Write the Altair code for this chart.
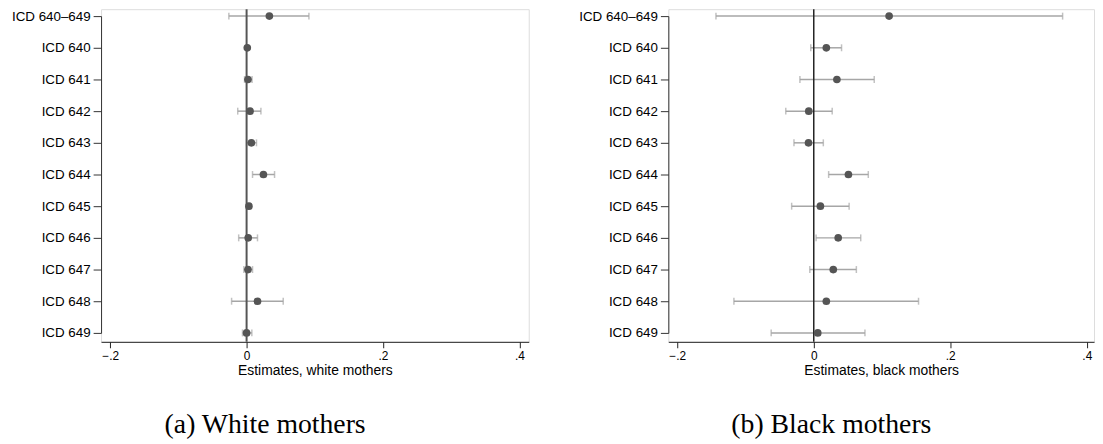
import altair as alt
import pandas as pd

labels = ["ICD 640–649", "ICD 640", "ICD 641", "ICD 642", "ICD 643", "ICD 644",
          "ICD 645", "ICD 646", "ICD 647", "ICD 648", "ICD 649"]

white_est = [0.0334, 0.0010, 0.0020, 0.0050, 0.0070, 0.0247, 0.0034, 0.0024, 0.0020, 0.0160, 0.0000]
white_lo = [-0.0260, 0.0000, -0.0030, -0.0130, 0.0000, 0.0087, 0.0020, -0.0116, -0.0040, -0.0220, -0.0060]
white_hi = [0.0914, 0.0020, 0.0080, 0.0210, 0.0145, 0.0410, 0.0050, 0.0160, 0.0087, 0.0537, 0.0077]

black_est = [0.1104, 0.0184, 0.0339, -0.0073, -0.0077, 0.0508, 0.0097, 0.0358, 0.0286, 0.0184, 0.0058]
black_lo = [-0.1433, -0.0044, -0.0203, -0.0410, -0.0290, 0.0218, -0.0324, 0.0034, -0.0058, -0.1170, -0.0624]
black_hi = [0.3646, 0.0407, 0.0886, 0.0270, 0.0140, 0.0799, 0.0518, 0.0688, 0.0624, 0.1535, 0.0750]

x_ticks = [-0.2, 0, 0.2, 0.4]

SANS = "Liberation Sans, Arial, sans-serif"
SERIF = "Liberation Serif, Times New Roman, serif"


def panel(est, lo, hi, xtitle, caption, width, dom, zero_color, zero_width):
    df = pd.DataFrame({"label": labels, "est": est, "lo": lo, "hi": hi})
    xscale = alt.Scale(domain=dom, nice=False, zero=False)
    xaxis = alt.Axis(
        title=xtitle, values=x_ticks,
        labelExpr="datum.value == 0 ? '0' : replace(format(datum.value, '.1f'), '0.', '.')",
        labelFont=SANS, labelFontSize=12, labelColor="black",
        titleFont=SANS, titleFontSize=14, titleFontWeight="normal", titleColor="black",
        titlePadding=2, tickSize=6, labelPadding=3,
        domainColor="#222222", tickColor="#222222", grid=False,
    )
    y = alt.Y("label:N", sort=labels,
              scale=alt.Scale(type="point", padding=0, range=[7, 327]),
              axis=alt.Axis(title=None, labelFont=SANS, labelFontSize=13.5, labelColor="black",
                            tickSize=8, labelPadding=3, domainColor="#333333",
                            tickColor="#333333", grid=False))
    base = alt.Chart(df)
    ci = base.mark_rule(color="#a6a6a6", strokeWidth=1.5).encode(
        x=alt.X("lo:Q", scale=xscale, axis=xaxis), x2="hi:Q", y=y)
    cap_lo = base.mark_tick(color="#a6a6a6", thickness=1.5, size=7).encode(
        x=alt.X("lo:Q", scale=xscale, axis=xaxis), y=y)
    cap_hi = base.mark_tick(color="#a6a6a6", thickness=1.5, size=7).encode(
        x=alt.X("hi:Q", scale=xscale, axis=xaxis), y=y)
    zero = alt.Chart(pd.DataFrame({"z": [0.0]})).mark_rule(
        color=zero_color, strokeWidth=zero_width).encode(
        x=alt.X("z:Q", scale=xscale, axis=xaxis))
    pts = base.mark_circle(size=60, color="#555555", opacity=1).encode(
        x=alt.X("est:Q", scale=xscale, axis=xaxis), y=y)
    return alt.layer(ci, cap_lo, cap_hi, zero, pts).properties(
        width=width, height=336,
        title=alt.TitleParams(caption, orient="bottom", anchor="middle", frame="bounds",
                              font=SERIF, fontSize=28, fontWeight="normal",
                              color="black", offset=34, dx=-5),
    )


left = panel(white_est, white_lo, white_hi, "Estimates, white mothers", "(a) White mothers",
             432, [-0.2134, 0.4137], "#555555", 2)
right = panel(black_est, black_lo, black_hi, "Estimates, black mothers", "(b) Black mothers",
              430, [-0.2131, 0.4106], "#222222", 1.5)

chart = alt.hconcat(left, right, spacing=48).properties(
    padding={"top": -3, "left": 2, "right": 0, "bottom": 0}
).configure_view(stroke=None).configure(background="white")

chart.save("out.html", embed_options={"renderer": "svg", "actions": False})
